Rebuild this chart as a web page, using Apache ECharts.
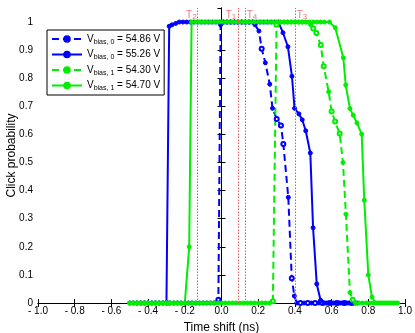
<!DOCTYPE html>
<html>
<head>
<meta charset="utf-8">
<script src="https://cdn.jsdelivr.net/npm/echarts@6/dist/echarts.min.js"></script>
<style>html,body{margin:0;padding:0;background:#fff}#c{width:415px;height:333px}</style>
</head>
<body>
<div id="c"></div>
<script>
// ---- data ----
const seriesNames = ['V{s|bias, 0} = 54.86 V', 'V{s|bias, 0} = 55.26 V', 'V{s|bias, 1} = 54.30 V', 'V{s|bias, 1} = 54.70 V'];

const xA = [-0.46,-0.44,-0.42,-0.40,-0.38,-0.36,-0.34,-0.32,-0.30,-0.28,-0.26,-0.24,-0.22,-0.20,-0.18,-0.16,-0.14,-0.12,-0.10,-0.08,-0.06,-0.04,-0.017,-0.005,0.01,0.03,0.05,0.07,0.09,0.11,0.13,0.15,0.17,0.183,0.204,0.219,0.239,0.263,0.278,0.301,0.324,0.337,0.364,0.383,0.397,0.41,0.43,0.45,0.47,0.49,0.51,0.53,0.55,0.57,0.59,0.61,0.63,0.65,0.67,0.69,0.71,0.73];
const yA = [0,0,0,0,0,0,0,0,0,0,0,0,0,0,0,0,0,0,0,0,0,0,0.012,0.99,1,1,1,1,1,1,1,1,1,0.99,0.968,0.905,0.855,0.779,0.693,0.655,0.632,0.566,0.376,0.088,0.025,0,0,0,0,0,0,0,0,0,0,0,0,0,0,0,0,0];
const openA = [-0.017,0.219,0.301,0.324,0.337,0.383,0.43,0.47,0.51,0.55,0.59,0.63,0.67,0.71];

const xB = [-0.50,-0.48,-0.46,-0.44,-0.42,-0.40,-0.38,-0.36,-0.34,-0.32,-0.30,-0.29,-0.285,-0.27,-0.25,-0.23,-0.21,-0.19,-0.17,-0.15,-0.13,-0.11,-0.09,-0.07,-0.05,-0.03,-0.01,0.01,0.03,0.05,0.07,0.09,0.11,0.13,0.15,0.17,0.19,0.21,0.23,0.25,0.27,0.29,0.31,0.335,0.362,0.384,0.398,0.422,0.44,0.459,0.484,0.499,0.519,0.54,0.56,0.58,0.60,0.62,0.64,0.66,0.68,0.70,0.72,0.74];
const yB = [0,0,0,0,0,0,0,0,0,0,0,0,0.985,0.99,0.995,1,1,1,1,1,1,1,1,1,1,1,1,1,1,1,1,1,1,1,1,1,1,1,1,1,1,1,1,0.962,0.912,0.807,0.693,0.673,0.652,0.613,0.534,0.268,0.068,0.01,0,0,0,0,0,0,0,0,0,0];
const openB = [];

const xC = [-0.50,-0.48,-0.46,-0.44,-0.42,-0.40,-0.38,-0.36,-0.34,-0.32,-0.30,-0.28,-0.26,-0.24,-0.22,-0.20,-0.18,-0.16,-0.14,-0.12,-0.10,-0.08,-0.06,-0.04,-0.02,0.00,0.02,0.04,0.06,0.08,0.10,0.12,0.14,0.16,0.18,0.20,0.22,0.24,0.26,0.28,0.30,0.32,0.34,0.36,0.38,0.40,0.42,0.44,0.46,0.486,0.50,0.517,0.541,0.557,0.584,0.60,0.619,0.644,0.662,0.678,0.70,0.715,0.73,0.75,0.77,0.79,0.81,0.83,0.85,0.87,0.89,0.91,0.93,0.95];
const yC = [0,0,0,0,0,0,0,0,0,0,0,0,0,0,0,0,0,0,0,0,0,0,0,0,0,0,0,0,0,0,0,0,0,0,0,0,0,0,0,0.006,0.99,1,1,1,1,1,1,1,1,0.99,0.977,0.961,0.918,0.843,0.752,0.682,0.646,0.603,0.50,0.316,0.037,0.012,0,0,0,0,0,0,0,0,0,0,0,0];
const openC = [0.28,0.30,0.50,0.517,0.541,0.557,0.60,0.619,0.644,0.715];

const xD = [-0.50,-0.48,-0.46,-0.44,-0.42,-0.40,-0.38,-0.36,-0.34,-0.32,-0.30,-0.28,-0.26,-0.24,-0.22,-0.20,-0.176,-0.163,-0.14,-0.12,-0.10,-0.08,-0.06,-0.04,-0.02,0.00,0.02,0.04,0.06,0.08,0.10,0.12,0.14,0.16,0.18,0.20,0.22,0.24,0.26,0.28,0.30,0.32,0.34,0.36,0.38,0.40,0.42,0.44,0.46,0.48,0.50,0.52,0.54,0.56,0.588,0.62,0.664,0.677,0.70,0.718,0.738,0.764,0.778,0.80,0.82,0.84,0.86,0.88,0.90,0.92,0.94,0.96];
const yD = [0,0,0,0,0,0,0,0,0,0,0,0,0,0,0,0,0.20,1,1,1,1,1,1,1,1,1,1,1,1,1,1,1,1,1,1,1,1,1,1,1,1,1,1,1,1,1,1,1,1,1,1,1,1,1,1,0.98,0.873,0.776,0.692,0.668,0.641,0.601,0.366,0.10,0.021,0,0,0,0,0,0,0];
const openD = [];

const markerNames = ['T{s|2}', 'T{s|1}', 'T{s|4}', 'T{s|3}'];
const markerX = [-0.130, 0.086, 0.132, 0.404];
const markerSide = ['left', 'left', 'right', 'right'];

// ---- chart ----
const BLUE = '#0000ff', GREEN = '#00ee00', RED = '#ee5555';
function pts(xs, ys) { return xs.map((x, i) => [x, ys[i]]); }
function mk(name, xs, ys, open, color, dashed) {
  return {
    name: name, type: 'line', data: pts(xs, ys),
    symbol: (v) => open.indexOf(v[0]) >= 0 ? 'emptyCircle' : 'circle',
    symbolSize: 4, showAllSymbol: true, animation: false,
    lineStyle: { color: color, width: 2, type: dashed ? [7, 4] : 'solid' },
    itemStyle: { color: color, borderColor: color, borderWidth: 1 },
    emphasis: { disabled: true }, z: 3
  };
}
const chart = echarts.init(document.getElementById('c'));
const font = 'Liberation Sans, Arial, sans-serif';
const series = [
  mk(seriesNames[0], xA, yA, openA, BLUE, true),
  mk(seriesNames[1], xB, yB, openB, BLUE, false),
  mk(seriesNames[2], xC, yC, openC, GREEN, true),
  mk(seriesNames[3], xD, yD, openD, GREEN, false),
  {
    type: 'line', data: [], silent: true, animation: false,
    markLine: {
      symbol: 'none', silent: true, animation: false,
      lineStyle: { color: RED, width: 1, type: [1.5, 1.5] },
      label: { show: false },
      data: markerX.map(x => ({ xAxis: x }))
    }
  },
  {
    type: 'scatter', symbolSize: 0, silent: true, animation: false,
    data: markerX.map((x, i) => ({
      value: [x, 1.025],
      label: { show: true, position: markerSide[i], distance: 1, formatter: markerNames[i],
        color: RED, fontSize: 10, fontFamily: font,
        rich: { s: { fontSize: 8, color: RED, fontFamily: font, padding: [4, 0, 0, 0] } } }
    }))
  }
];
const axisLine = { show: true, lineStyle: { color: '#000', width: 1 } };
const tick = { show: true, inside: true, length: 4, lineStyle: { color: '#000' } };
chart.setOption({
  animation: false,
  backgroundColor: '#fff',
  grid: { left: 38, right: 10, top: 8, bottom: 30, outerBoundsMode: 'none', containLabel: false },
  legend: {
    orient: 'vertical', left: 47, top: 30,
    data: seriesNames,
    backgroundColor: '#fff', borderColor: '#000', borderWidth: 1,
    padding: [4, 4, 3, 4], itemGap: 4, itemWidth: 30, itemHeight: 7,
    selectedMode: false,
    textStyle: { fontSize: 10, fontFamily: font, color: '#000',
      rich: { s: { fontSize: 7, fontFamily: font, color: '#000', padding: [6, 0, 0, 0] } } }
  },
  xAxis: [{
    type: 'value', min: -1, max: 1, interval: 0.2,
    axisLine: axisLine, axisTick: tick, splitLine: { show: false },
    axisLabel: { color: '#000', fontSize: 10, fontFamily: font, margin: 3,
      formatter: v => v < -1e-9 ? '- ' + Math.abs(v).toFixed(1) : Math.abs(v).toFixed(1) },
    name: 'Time shift (ns)', nameLocation: 'middle', nameGap: 19, nameMoveOverlap: false,
    nameTextStyle: { fontSize: 12, fontFamily: font, color: '#000' }
  }, {
    type: 'value', min: -1, max: 1, interval: 0.2, position: 'top',
    axisLine: axisLine, axisTick: tick, splitLine: { show: false }, axisLabel: { show: false }
  }],
  yAxis: [{
    type: 'value', min: 0, max: 1.05, interval: 0.1,
    axisLine: axisLine, axisTick: tick, splitLine: { show: false },
    axisLabel: { color: '#000', fontSize: 10, fontFamily: font, margin: 5, showMaxLabel: false,
      formatter: v => v > 1.001 ? '' : (Math.abs(v) < 1e-9 ? '0' : (Math.abs(v - 1) < 1e-9 ? '1' : v.toFixed(1))) },
    name: 'Click probability', nameLocation: 'middle', nameGap: 20, nameMoveOverlap: false,
    nameTextStyle: { fontSize: 12, fontFamily: font, color: '#000' }
  }, {
    type: 'value', min: 0, max: 1.05, interval: 0.1, position: 'right',
    axisLine: axisLine, axisTick: tick, splitLine: { show: false }, axisLabel: { show: false }
  }],
  series: series
});
</script>
</body>
</html>
